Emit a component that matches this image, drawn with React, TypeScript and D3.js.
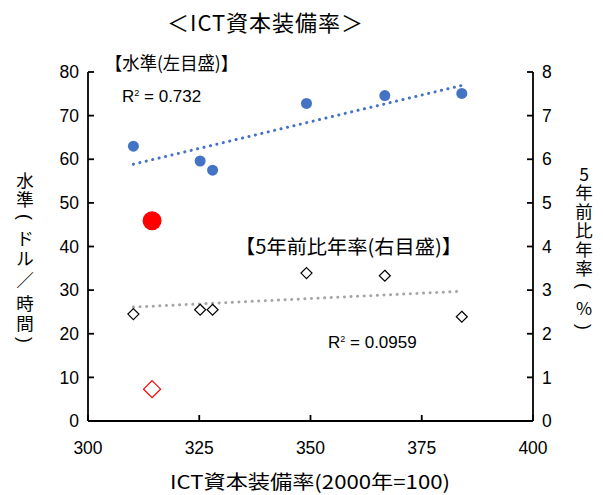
import React from "react";
import * as d3 from "d3";

// ICT capital equipment ratio (2000 = 100)
const ictRatio = [310.2, 325.2, 328.0, 349.1, 366.7, 384.0];
// Level, USD per hour (left axis)
const levelValues = [63.0, 59.6, 57.5, 72.8, 74.6, 75.1];
// Annualised change vs five years earlier, % (right axis)
const growthValues = [2.45, 2.55, 2.55, 3.39, 3.33, 2.39];
// Highlighted economy
const highlightRatio = 314.4;
const highlightLevel = 45.9;
const highlightGrowth = 0.73;

const xTicks = [300, 325, 350, 375, 400];
const leftTicks = [0, 10, 20, 30, 40, 50, 60, 70, 80];
const rightTicks = [0, 1, 2, 3, 4, 5, 6, 7, 8];
const levelR2Label = "0.732";
const growthR2Label = "0.0959";

// vertical axis titles, one glyph per row; "(" / ")" are turned sideways
const leftTitleChars = ["水", "準", "(", "ド", "ル", "／", "時", "間", ")"];
const leftTitleY = [179, 198, 217, 237, 257, 279, 302, 322, 340];
const rightTitleChars = ["5", "年", "前", "比", "年", "率", "(", "%", ")"];
const rightTitleY = [173, 191, 210, 229, 248, 267, 286, 307, 327];

const FONT = "'Liberation Sans', 'Noto Sans CJK JP', sans-serif";
const CJK = "'Noto Sans CJK JP', sans-serif";

function fit(xs: number[], ys: number[]) {
  const mx = d3.mean(xs)!;
  const my = d3.mean(ys)!;
  let sxy = 0;
  let sxx = 0;
  xs.forEach((x, i) => {
    sxy += (x - mx) * (ys[i] - my);
    sxx += (x - mx) * (x - mx);
  });
  const slope = sxy / sxx;
  return (x: number) => my + slope * (x - mx);
}

function VChar({ c, x, y }: { c: string; x: number; y: number }) {
  const sideways = c === "(" || c === ")";
  return (
    <text
      x={x}
      y={y}
      dominantBaseline="central"
      textAnchor="middle"
      fontFamily={sideways ? FONT : CJK}
      transform={sideways ? `rotate(90 ${x} ${y})` : undefined}
    >
      {c}
    </text>
  );
}

export default function App() {
  const W = 603;
  const H = 495;
  const left = 88;
  const right = 533;
  const top = 72;
  const bottom = 421;

  const x = d3.scaleLinear().domain([300, 400]).range([left, right]);
  const yL = d3.scaleLinear().domain([0, 80]).range([bottom, top]);
  const yR = d3.scaleLinear().domain([0, 8]).range([bottom, top]);

  const levelFit = fit(ictRatio, levelValues);
  const growthFit = fit(ictRatio, growthValues);
  const xMin = d3.min(ictRatio)!;
  const xMax = d3.max(ictRatio)!;

  const line = d3.line<[number, number]>();
  const levelTrend = line([
    [x(xMin), yL(levelFit(xMin))],
    [x(xMax), yL(levelFit(xMax))],
  ])!;
  const growthTrend = line([
    [x(xMin), yR(growthFit(xMin))],
    [x(xMax), yR(growthFit(xMax))],
  ])!;

  const diamond = (cx: number, cy: number, r: number) =>
    `M${cx},${cy - r}L${cx + r},${cy}L${cx},${cy + r}L${cx - r},${cy}Z`;

  return (
    <svg width={W} height={H} style={{ position: "absolute", left: 0, top: 0, background: "#fff" }}>
      {/* title */}
      <text x={265} y={21} dominantBaseline="central" textAnchor="middle" fontFamily={CJK} fontSize={22} textLength={196} lengthAdjust="spacing" fill="#000">
        ＜ICT資本装備率＞
      </text>

      {/* trend lines */}
      <path d={levelTrend} stroke="#4472C4" strokeWidth={3} strokeDasharray="0.1 6.5" strokeLinecap="round" fill="none" />
      <path d={growthTrend} stroke="#A5A5A5" strokeWidth={3} strokeDasharray="0.1 6.5" strokeLinecap="round" fill="none" />

      {/* level points */}
      {ictRatio.map((v, i) => (
        <circle key={"l" + i} cx={x(v)} cy={yL(levelValues[i])} r={5.5} fill="#4472C4" />
      ))}
      <circle cx={x(highlightRatio)} cy={yL(highlightLevel)} r={9.5} fill="#FF0000" />

      {/* growth points */}
      {ictRatio.map((v, i) => (
        <path key={"g" + i} d={diamond(x(v), yR(growthValues[i]), 5.5)} fill="#fff" stroke="#000" strokeWidth={1.2} />
      ))}
      <path d={diamond(x(highlightRatio), yR(highlightGrowth), 8.5)} fill="#fff" stroke="#FF0000" strokeWidth={1.2} />

      {/* axes */}
      <g stroke="#000" strokeWidth={1.8} fill="none">
        <line x1={left} y1={top} x2={left} y2={bottom} />
        <line x1={right} y1={top} x2={right} y2={bottom} />
        <line x1={left} y1={bottom} x2={right} y2={bottom} />
        {leftTicks.map((t) => (
          <line key={"lt" + t} x1={left} x2={left + 6} y1={yL(t)} y2={yL(t)} />
        ))}
        {rightTicks.map((t) => (
          <line key={"rt" + t} x1={right - 6} x2={right} y1={yR(t)} y2={yR(t)} />
        ))}
        {xTicks.map((t) => (
          <line key={"xt" + t} x1={x(t)} x2={x(t)} y1={bottom} y2={bottom - 6} />
        ))}
      </g>

      {/* tick labels */}
      <g fontFamily={FONT} fontSize={17.5} fill="#000">
        {leftTicks.map((t) => (
          <text key={"ll" + t} x={left - 9} y={yL(t)} dy="0.35em" textAnchor="end">
            {t}
          </text>
        ))}
        {rightTicks.map((t) => (
          <text key={"rl" + t} x={right + 9} y={yR(t)} dy="0.35em" textAnchor="start">
            {t}
          </text>
        ))}
        {xTicks.map((t) => (
          <text key={"xl" + t} x={x(t)} y={448} dy="0.35em" textAnchor="middle">
            {t}
          </text>
        ))}
      </g>

      {/* axis titles */}
      <text x={170} y={480} dominantBaseline="central" fontFamily={CJK} fontSize={19} textLength={280} lengthAdjust="spacingAndGlyphs" fill="#000">
        ICT資本装備率(2000年=100)
      </text>
      <g fontSize={17.5} fill="#000">
        {leftTitleChars.map((c, i) => (
          <VChar key={"lc" + i} c={c} x={25} y={leftTitleY[i]} />
        ))}
        {rightTitleChars.map((c, i) => (
          <VChar key={"rc" + i} c={c} x={584} y={rightTitleY[i]} />
        ))}
      </g>

      {/* series annotations */}
      <text x={105} y={62} dominantBaseline="central" fontFamily={CJK} fontSize={18} textLength={133} lengthAdjust="spacingAndGlyphs" fill="#000">
        【水準(左目盛)】
      </text>
      <text x={122} y={96} dy="0.35em" fontFamily={FONT} fontSize={17} fill="#000">
        R<tspan fontSize={9} dy="-6">2</tspan>
        <tspan dy="6"> = {levelR2Label}</tspan>
      </text>
      <text x={235} y={245} dominantBaseline="central" fontFamily={CJK} fontSize={19.5} textLength={227} lengthAdjust="spacingAndGlyphs" fill="#000">
        【5年前比年率(右目盛)】
      </text>
      <text x={328} y={342} dy="0.35em" fontFamily={FONT} fontSize={17} fill="#000">
        R<tspan fontSize={9} dy="-6">2</tspan>
        <tspan dy="6"> = {growthR2Label}</tspan>
      </text>
    </svg>
  );
}
